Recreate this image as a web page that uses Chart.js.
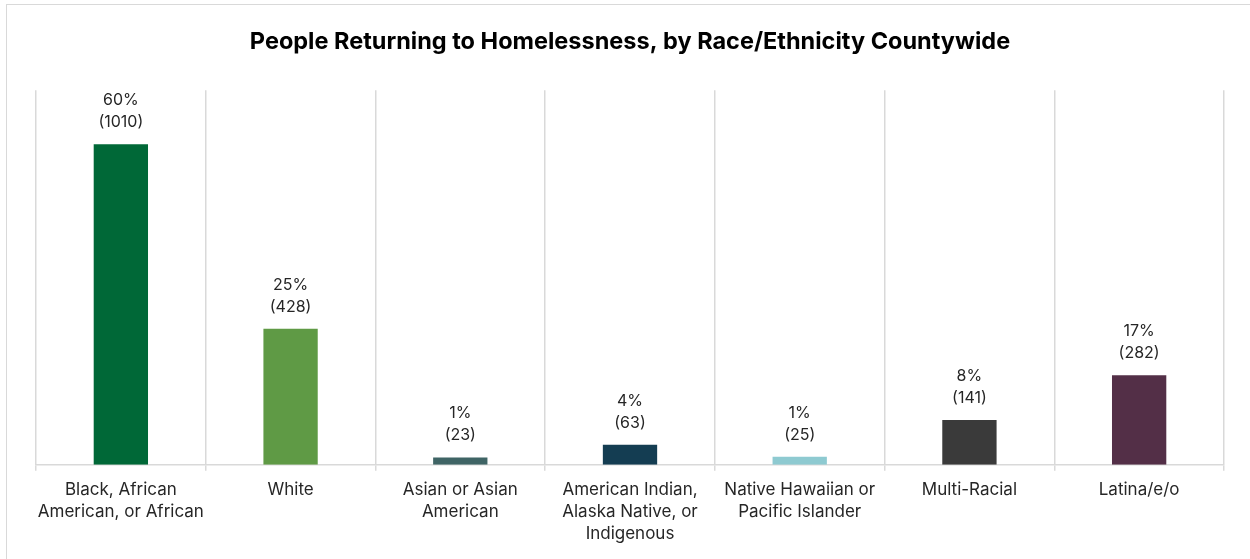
<!DOCTYPE html>
<html>
<head>
<meta charset="utf-8">
<script src="https://cdn.jsdelivr.net/npm/chart.js@4/dist/chart.umd.min.js"></script>
<style>
  body { margin: 0; background: #fff; }
  #frame { position: absolute; left: 6px; top: 4px; width: 1250px; height: 600px; border: 1.5px solid #d9d9d9; }
  #chart { position: absolute; left: 0; top: 0; }
</style>
</head>
<body>
<div id="frame"></div>
<canvas id="chart" width="1250" height="559"></canvas>
<script>
// race / ethnicity categories (wrapped like the original)
const categories = [
    ['Black, African', 'American, or African'],
    ['White'],
    ['Asian or Asian', 'American'],
    ['American Indian,', 'Alaska Native, or', 'Indigenous'],
    ['Native Hawaiian or', 'Pacific Islander'],
    ['Multi-Racial'],
    ['Latina/e/o']
];
const counts = [1010, 428, 23, 63, 25, 141, 282];
const percents = ['60%', '25%', '1%', '4%', '1%', '8%', '17%'];
const barColors = ['#006837', '#5f9a45', '#3f6465', '#143d52', '#8ecad1', '#3a3a3a', '#532f47'];

const fontFamily = 'Inter, "Noto Sans", sans-serif';

// two line label above every bar: "60%" then "(1010)"
const barLabels = {
    id: 'barLabels',
    afterDatasetsDraw(chart) {
        const ctx = chart.ctx;
        const meta = chart.getDatasetMeta(0);
        ctx.save();
        ctx.font = '16px ' + fontFamily;
        ctx.fillStyle = '#262626';
        ctx.textAlign = 'center';
        ctx.textBaseline = 'middle';
        meta.data.forEach((bar, i) => {
            ctx.fillText('(' + counts[i] + ')', bar.x, bar.y - 22);
            ctx.fillText(percents[i], bar.x, bar.y - 44);
        });
        ctx.restore();
    }
};

new Chart(document.getElementById('chart').getContext('2d'), {
    type: 'bar',
    data: {
        labels: categories,
        datasets: [{
            data: counts,
            backgroundColor: barColors,
            barPercentage: 0.32,
            categoryPercentage: 1
        }]
    },
    options: {
        responsive: false,
        animation: false,
        layout: { padding: { left: 36, right: 26, top: 0, bottom: 6 } },
        plugins: {
            legend: { display: false },
            tooltip: { enabled: false },
            title: {
                display: true,
                text: 'People Returning to Homelessness, by Race/Ethnicity Countywide',
                color: '#000',
                font: { family: fontFamily, size: 23.5, weight: 'bold', lineHeight: 1.2 },
                padding: { top: 28, bottom: 34 }
            }
        },
        scales: {
            x: {
                grid: { color: '#d9d9d9', lineWidth: 1.5, tickLength: 6, offset: true },
                border: { color: '#d9d9d9', width: 1.5 },
                ticks: {
                    color: '#262626',
                    padding: 8,
                    maxRotation: 0,
                    autoSkip: false,
                    font: { family: fontFamily, size: 17, lineHeight: 1.3 }
                }
            },
            y: {
                display: false,
                min: 0,
                max: 1180
            }
        }
    },
    plugins: [barLabels]
});
</script>
</body>
</html>
